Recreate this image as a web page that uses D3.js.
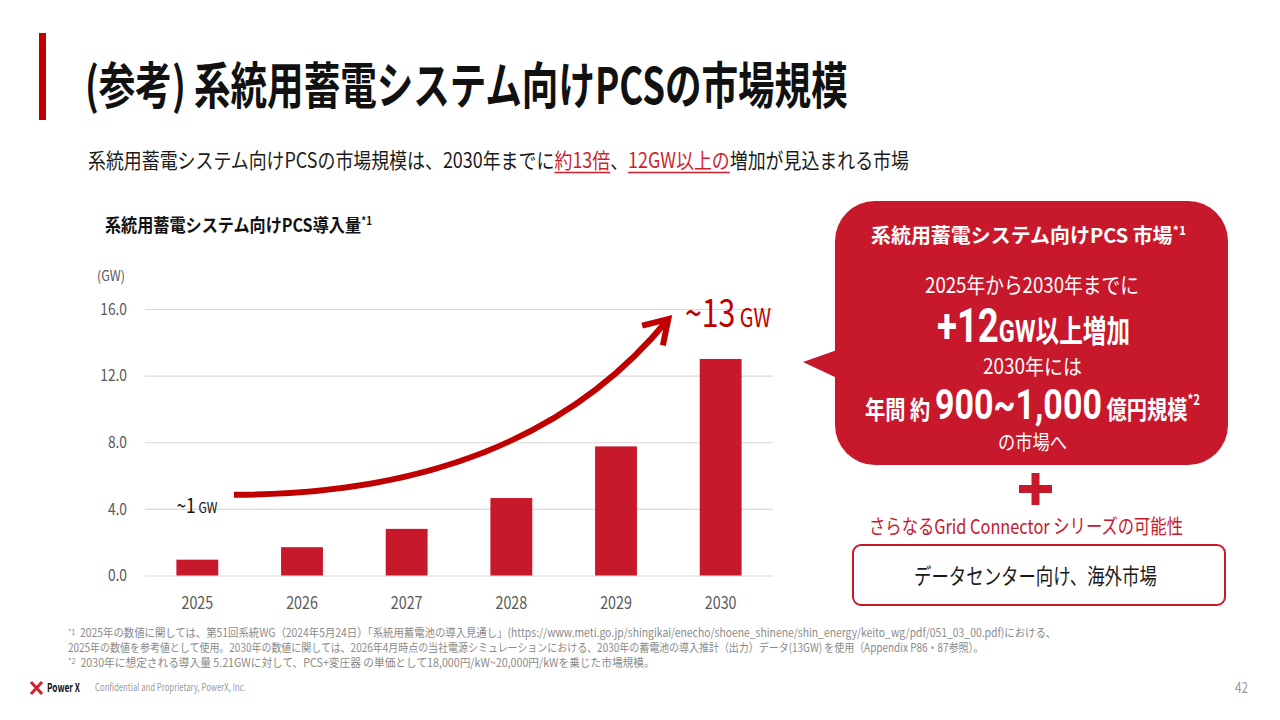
<!DOCTYPE html>
<html lang="ja">
<head>
<meta charset="utf-8">
<script src="https://cdn.jsdelivr.net/npm/d3@7"></script>
<style>
  html, body { margin: 0; padding: 0; background: #ffffff; }
  svg { display: block; }
</style>
</head>
<body>
<script>
// ---------------- DATA ----------------
const years = ["2025", "2026", "2027", "2028", "2029", "2030"];
const installedGW = [0.95, 1.7, 2.8, 4.65, 7.75, 13.0];
const yTicks = [0, 4, 8, 12, 16];
// growth arrow in data space: [category index, GW]
const arrowPts = [[0.35, 4.85], [2.13, 4.85], [3.56, 8.15], [4.50, 15.4]];

const titleText = "(参考) 系統用蓄電システム向けPCSの市場規模";
const subtitleParts = ["系統用蓄電システム向けPCSの市場規模は、2030年までに", "約13倍", "、", "12GW以上の", "増加が見込まれる市場"];
const chartTitle = "系統用蓄電システム向けPCS導入量";
const unitLabel = "(GW)";
const footnotes = [
  ["*1", "  2025年の数値に関しては、第51回系統WG（2024年5月24日）「系統用蓄電池の導入見通し」(https://www.meti.go.jp/shingikai/enecho/shoene_shinene/shin_energy/keito_wg/pdf/051_03_00.pdf)における、"],
  ["", "2025年の数値を参考値として使用。2030年の数値に関しては、2026年4月時点の当社電源シミュレーションにおける、2030年の蓄電池の導入推計（出力）データ(13GW) を使用（Appendix P86・87参照）。"],
  ["*2", "  2030年に想定される導入量 5.21GWに対して、PCS+変圧器 の単価として18,000円/kW~20,000円/kWを乗じた市場規模。"]
];

// ---------------- SETUP ----------------
const FONT = "'Noto Sans CJK JP', 'Noto Sans', sans-serif";
const NUMFONT = "Roboto, 'Noto Sans CJK JP', sans-serif";
const RED = "#c8182c";
const DARKRED = "#c00000";
const W = 1280, H = 720;

const svg = d3.select("body").append("svg")
  .attr("width", W).attr("height", H)
  .style("font-family", FONT);

// Lays out parts as separate text runs, then condenses the whole run horizontally to the target width.
function rich(parent, o) {
  const g = parent.append("g");
  const inner = g.append("g");
  let cx = 0;
  const offsets = [];
  o.parts.forEach(p => {
    const t = inner.append("text")
      .attr("x", cx).attr("y", p.dy || 0)
      .attr("font-size", p.size)
      .attr("font-weight", p.weight || o.weight || "normal")
      .attr("fill", p.fill || o.fill || "#000")
      .style("white-space", "pre")
      .attr("xml:space", "preserve")
      .text(p.t);
    if (p.family) t.style("font-family", p.family);
    const L = t.node().getComputedTextLength();
    offsets.push([cx, cx + L]);
    cx += L;
  });
  const natural = cx;
  const sx = o.width ? o.width / natural : 1;
  const total = natural * sx;
  let x0 = o.x;
  if (o.anchor === "middle") x0 = o.x - total / 2;
  else if (o.anchor === "end") x0 = o.x - total;
  g.attr("transform", `translate(${x0},${o.y}) scale(${sx},1)`);
  return { g, offsets: offsets.map(([a, b]) => [x0 + a * sx, x0 + b * sx]) };
}
function condense(factor) {
  return function () {
    const L = this.getComputedTextLength();
    d3.select(this).attr("textLength", L * factor).attr("lengthAdjust", "spacingAndGlyphs");
  };
}

// ---------------- HEADER ----------------
svg.append("rect").attr("x", 39).attr("y", 33).attr("width", 7).attr("height", 87).attr("fill", DARKRED);
rich(svg, { x: 85, y: 104, width: 763, weight: "bold", fill: "#111",
  parts: [{ t: titleText, size: 50 }] });

const sub = rich(svg, { x: 88, y: 168, width: 821, fill: "#1a1a1a",
  parts: [
    { t: subtitleParts[0], size: 21 },
    { t: subtitleParts[1], size: 21, fill: "#cc1f2e" },
    { t: subtitleParts[2], size: 21 },
    { t: subtitleParts[3], size: 21, fill: "#cc1f2e" },
    { t: subtitleParts[4], size: 21 }
  ] });
[1, 3].forEach(i => {
  const [a, b] = sub.offsets[i];
  svg.append("line").attr("x1", a).attr("x2", b)
    .attr("y1", 172.5).attr("y2", 172.5)
    .attr("stroke", "#cc1f2e").attr("stroke-width", 1.6);
});

// ---------------- CHART ----------------
const x = d3.scaleBand().domain(years).range([145, 773]).paddingInner(0.6).paddingOuter(0.3);
const y = d3.scaleLinear().domain([0, 16]).range([575.5, 309]);
const xi = d3.scaleLinear().domain([0, years.length - 1])
  .range([x(years[0]) + x.bandwidth() / 2, x(years[years.length - 1]) + x.bandwidth() / 2]);

rich(svg, { x: 105, y: 232, width: 267, weight: "bold", fill: "#111",
  parts: [{ t: chartTitle, size: 18 }, { t: "*1", size: 11, dy: -7 }] });
rich(svg, { x: 97, y: 281, width: 28, fill: "#595959",
  parts: [{ t: unitLabel, size: 14 }] });

const gy = svg.append("g")
  .attr("transform", `translate(${x.range()[0]},0)`)
  .call(d3.axisLeft(y).tickValues(yTicks).tickFormat(d3.format(".1f"))
    .tickSizeInner(-(x.range()[1] - x.range()[0])).tickSizeOuter(0).tickPadding(18));
gy.attr("font-family", FONT).attr("font-size", 16);
gy.select(".domain").remove();
gy.selectAll(".tick line").attr("stroke", "#d9d9d9").attr("stroke-width", 1.2);
gy.selectAll(".tick text").attr("fill", "#595959").each(condense(0.86));

const gx = svg.append("g")
  .attr("transform", `translate(0,${y(0)})`)
  .call(d3.axisBottom(x).tickSize(0).tickPadding(21.5));
gx.attr("font-family", FONT).attr("font-size", 17);
gx.select(".domain").remove();
gx.selectAll(".tick text").attr("fill", "#595959").each(condense(0.84));

const data = years.map((yr, i) => ({ year: yr, value: installedGW[i] }));
svg.append("g").selectAll("rect").data(data).join("rect")
  .attr("x", d => x(d.year))
  .attr("y", d => y(d.value))
  .attr("width", x.bandwidth())
  .attr("height", d => y(0) - y(d.value))
  .attr("fill", RED);

// growth arrow
const P = arrowPts.map(([i, v]) => [xi(i), y(v)]);
const path = d3.path();
path.moveTo(P[0][0], P[0][1]);
path.bezierCurveTo(P[1][0], P[1][1], P[2][0], P[2][1], P[3][0], P[3][1]);
svg.append("path").attr("d", path.toString())
  .attr("fill", "none").attr("stroke", DARKRED).attr("stroke-width", 6);
(function head() {
  const tip = P[3];
  const ang = Math.atan2(P[3][1] - P[2][1], P[3][0] - P[2][0]) + 0.08;
  const L = 27, spread = 0.56;
  const a1 = ang + Math.PI - spread, a2 = ang + Math.PI + spread;
  const h = d3.path();
  h.moveTo(tip[0] + L * Math.cos(a1), tip[1] + L * Math.sin(a1));
  h.lineTo(tip[0], tip[1]);
  h.lineTo(tip[0] + L * Math.cos(a2), tip[1] + L * Math.sin(a2));
  svg.append("path").attr("d", h.toString())
    .attr("fill", "none").attr("stroke", DARKRED).attr("stroke-width", 6)
    .attr("stroke-linejoin", "miter").attr("stroke-linecap", "butt");
})();

// value annotations
rich(svg, { x: x(years[0]), y: y(3.75), width: 41, fill: "#111",
  parts: [{ t: "~1", size: 20 }, { t: " GW", size: 14 }] });
rich(svg, { x: x.range()[1] - 2, y: y(14.9), anchor: "end", width: 86, fill: DARKRED,
  parts: [{ t: "~13", size: 38 }, { t: " GW", size: 25 }] });

// ---------------- CALLOUT ----------------
const co = svg.append("g");
co.append("rect").attr("x", 835).attr("y", 201).attr("width", 393).attr("height", 264)
  .attr("rx", 40).attr("ry", 40).attr("fill", RED);
co.append("path").attr("d", "M 837 350 L 803 362 L 837 378 Z").attr("fill", RED);

rich(co, { x: 871, y: 243, width: 315, weight: "bold", fill: "#fff",
  parts: [{ t: "系統用蓄電システム向けPCS 市場", size: 20 }, { t: "*1", size: 12, dy: -8 }] });
rich(co, { x: 925, y: 293, width: 214, fill: "#fff",
  parts: [{ t: "2025年から2030年までに", size: 22 }] });
rich(co, { x: 937, y: 342, width: 193, weight: "bold", fill: "#fff",
  parts: [{ t: "+12", size: 48, family: NUMFONT }, { t: "GW", size: 31, family: NUMFONT }, { t: "以上増加", size: 31 }] });
rich(co, { x: 983, y: 374, width: 99, fill: "#fff",
  parts: [{ t: "2030年には", size: 21 }] });
rich(co, { x: 865, y: 419, width: 335, weight: "bold", fill: "#fff",
  parts: [{ t: "年間 約 ", size: 25 }, { t: "900~1,000", size: 42, family: NUMFONT }, { t: " 億円規模", size: 25 }, { t: "*2", size: 14, dy: -14 }] });
rich(co, { x: 998, y: 450, width: 69, fill: "#fff",
  parts: [{ t: "の市場へ", size: 20 }] });

// plus sign
svg.append("rect").attr("x", 1019).attr("y", 485).attr("width", 33).attr("height", 8).attr("fill", RED);
svg.append("rect").attr("x", 1031.5).attr("y", 473).attr("width", 8).attr("height", 32).attr("fill", RED);

rich(svg, { x: 869, y: 534, width: 314, fill: "#c8182c",
  parts: [{ t: "さらなるGrid Connector シリーズの可能性", size: 20 }] });

svg.append("rect").attr("x", 853).attr("y", 545).attr("width", 372).attr("height", 60)
  .attr("rx", 8).attr("ry", 8).attr("fill", "#fff").attr("stroke", RED).attr("stroke-width", 2);
rich(svg, { x: 914, y: 584, width: 243, fill: "#1a1a1a",
  parts: [{ t: "データセンター向け、海外市場", size: 22 }] });

// ---------------- FOOTNOTES ----------------
const fnWidths = [990, 917, 587];
const fnBase = [637, 651.5, 666.5];
footnotes.forEach((f, i) => {
  const parts = [];
  if (f[0]) { parts.push({ t: f[0], size: 8, dy: -2.5 }); }
  parts.push({ t: f[1], size: 11.5 });
  rich(svg, { x: 68, y: fnBase[i], width: fnWidths[i], fill: "#8a8a8a", parts });
});

// ---------------- FOOTER ----------------
svg.append("path").attr("d", "M 31 682 L 42 694 M 42 682 L 31 694")
  .attr("stroke", "#d0202e").attr("stroke-width", 3).attr("fill", "none");
rich(svg, { x: 47, y: 692, width: 33, weight: "bold", fill: "#111",
  parts: [{ t: "Power X", size: 12 }] });
rich(svg, { x: 95, y: 691, width: 151, fill: "#9a9a9a",
  parts: [{ t: "Confidential and Proprietary, PowerX, Inc.", size: 10 }] });
rich(svg, { x: 1248, y: 693, anchor: "end", width: 13, fill: "#9a9a9a",
  parts: [{ t: "42", size: 15 }] });
</script>
</body>
</html>
